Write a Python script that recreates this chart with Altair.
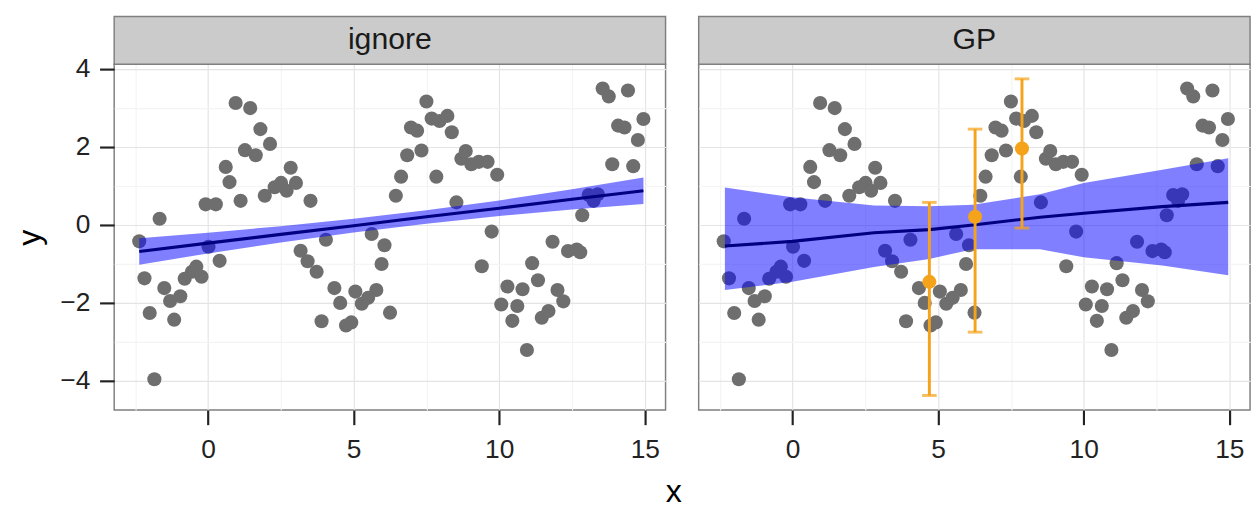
import altair as alt
import pandas as pd

# ---- scatter data (same points in both panels) ----
px = [-2.36, -2.18, -2.0, -1.84, -1.66, -1.5, -1.3, -1.16, -0.95, -0.8,
      -0.55, -0.4, -0.22, -0.08, 0.02, 0.27, 0.4, 0.61, 0.74, 0.95,
      1.12, 1.27, 1.45, 1.64, 1.8, 1.95, 2.13, 2.29, 2.51, 2.7,
      2.84, 3.02, 3.18, 3.42, 3.52, 3.73, 3.9, 4.05, 4.34, 4.54,
      4.74, 4.92, 5.06, 5.28, 5.5, 5.62, 5.78, 5.96, 6.06, 6.25,
      6.45, 6.63, 6.84, 6.97, 7.18, 7.33, 7.5, 7.68, 7.84, 7.95,
      8.22, 8.37, 8.53, 8.7, 8.85, 9.04, 9.3, 9.4, 9.6, 9.74,
      9.93, 10.07, 10.28, 10.45, 10.62, 10.8, 10.95, 11.13, 11.33, 11.46,
      11.69, 11.83, 12.0, 12.2, 12.36, 12.66, 12.78, 12.85, 13.07, 13.24,
      13.38, 13.55, 13.76, 13.88, 14.08, 14.3, 14.42, 14.6, 14.76, 14.95]
py = [-0.42, -1.37, -2.26, -3.96, 0.16, -1.62, -1.95, -2.43, -1.83, -1.38,
      -1.2, -1.07, -1.33, 0.53, -0.56, 0.53, -0.92, 1.49, 1.1, 3.13,
      0.62, 1.92, 3.0, 1.79, 2.46, 0.75, 2.08, 0.97, 1.08, 0.88,
      1.47, 1.08, -0.66, -0.93, 0.62, -1.2, -2.47, -0.38, -1.62, -2.0,
      -2.58, -2.5, -1.71, -2.02, -1.87, -0.23, -1.67, -1.0, -0.52, -2.25,
      0.75, 1.24, 1.79, 2.5, 2.42, 1.91, 3.17, 2.73, 1.24, 2.67,
      2.8, 2.38, 0.58, 1.7, 1.9, 1.56, 1.62, -1.06, 1.62, -0.17,
      1.29, -2.04, -1.58, -2.46, -2.08, -1.65, -3.21, -0.98, -1.42, -2.38,
      -2.21, -0.43, -1.67, -1.96, -0.67, -0.63, -0.7, 0.25, 0.77, 0.62,
      0.79, 3.5, 3.3, 1.56, 2.55, 2.5, 3.45, 1.51, 2.18, 2.72]

# ---- linear fit ("ignore" panel) ----
lm_x = [-2.36, 0.0, 2.5, 5.0, 7.5, 10.0, 12.5, 14.95]
lm_fit = [-0.68, -0.465, -0.24, -0.02, 0.21, 0.43, 0.66, 0.88]
lm_lo = [-1.02, -0.73, -0.45, -0.19, 0.03, 0.23, 0.40, 0.54]
lm_hi = [-0.34, -0.20, -0.03, 0.16, 0.38, 0.63, 0.92, 1.22]

# ---- GP fit ("GP" panel) ----
gp_x = [-2.32, 0.0, 2.8, 4.7, 6.2, 8.5, 10.0, 12.7, 14.96]
gp_fit = [-0.54, -0.42, -0.2, -0.12, 0.0, 0.2, 0.3, 0.47, 0.58]
gp_lo = [-1.67, -1.46, -1.08, -0.87, -0.62, -0.62, -0.83, -1.04, -1.29]
gp_hi = [0.96, 0.71, 0.5, 0.48, 0.52, 0.79, 1.08, 1.42, 1.71]

# ---- GP predictions with intervals ----
err_x = [4.7, 6.27, 7.88]
err_y = [-1.46, 0.21, 1.96]
err_lo = [-4.375, -2.75, -0.08]
err_hi = [0.58, 2.46, 3.75]

panels = ["ignore", "GP"]
x_ticks = [-2.5, 0, 2.5, 5, 7.5, 10, 12.5, 15]
y_ticks = [-4, -3, -2, -1, 0, 1, 2, 3, 4]

W, H, STRIP = 566, 355, 49
FONT = "Liberation Sans"

pts = pd.DataFrame({"x": px, "y": py})
lm_df = pd.DataFrame({"x": lm_x, "fit": lm_fit, "lo": lm_lo, "hi": lm_hi})
gp_df = pd.DataFrame({"x": gp_x, "fit": gp_fit, "lo": gp_lo, "hi": gp_hi})
err_df = pd.DataFrame({"x": err_x, "y": err_y, "lo": err_lo, "hi": err_hi})

xs = alt.Scale(domain=[-3.22, 15.71], nice=False, zero=False)
ys = alt.Scale(domain=[-4.75, 4.125], nice=False, zero=False)


def grid_color(test):
    return {"condition": {"test": test, "value": "#e4e4e4"}, "value": "#f4f4f4"}


def tick_color(test):
    return {"condition": {"test": test, "value": "#222222"}, "value": "transparent"}


def x_axis(first):
    kw = dict(values=x_ticks, grid=True, gridColor=grid_color("datum.value % 5 == 0"),
              gridWidth=1.2, domain=False, tickColor=tick_color("datum.value % 5 == 0"),
              tickSize=15, tickWidth=2.2, labelPadding=13,
              labelExpr="datum.value % 5 == 0 ? datum.label : ''")
    if first:
        kw.update(title="x", titleX=574, titleAlign="center", titlePadding=14)
    else:
        kw.update(title=None)
    return alt.Axis(**kw)


def y_axis(first):
    kw = dict(values=y_ticks, grid=True, gridColor=grid_color("datum.value % 2 == 0"),
              gridWidth=1.2, domain=False)
    if first:
        kw.update(title="y", tickColor=tick_color("datum.value % 2 == 0"), tickSize=15,
                  tickWidth=2.2, labelPadding=10, titlePadding=14,
                  labelExpr="datum.value % 2 == 0 ? datum.label : ''")
    else:
        kw.update(title=None, labels=False, ticks=False)
    return alt.Axis(**kw)


def strip(label):
    sdf = pd.DataFrame({"panel": [label]})
    rect = alt.Chart(sdf).mark_rect(fill="#cbcbcb", stroke="#7f7f7f", strokeWidth=1.5).encode(
        x=alt.value(0), x2=alt.value(W), y=alt.value(-STRIP), y2=alt.value(0))
    txt = alt.Chart(sdf).mark_text(font=FONT, fontSize=31, color="#1a1a1a",
                                   align="center", baseline="middle").encode(
        x=alt.value(W / 2), y=alt.value(-STRIP / 2), text="panel:N")
    return [rect, txt]


def panel(label, fit_df, first):
    xa, ya = x_axis(first), y_axis(first)

    def X(f):
        return alt.X(f"{f}:Q", scale=xs, axis=xa)

    def Y(f):
        return alt.Y(f"{f}:Q", scale=ys, axis=ya)

    points = alt.Chart(pts).mark_circle(size=210, color="#6e6e6e", opacity=1).encode(x=X("x"), y=Y("y"))
    ribbon = alt.Chart(fit_df).mark_area(color="#0000ff", opacity=0.5).encode(
        x=X("x"), y=Y("lo"), y2="hi:Q")
    line = alt.Chart(fit_df).mark_line(color="#000080", strokeWidth=3.2).encode(x=X("x"), y=Y("fit"))
    layers = [points, ribbon, line]
    if not first:
        orange = "#f5a31a"
        bars = alt.Chart(err_df).mark_rule(color=orange, strokeWidth=3).encode(
            x=X("x"), y=Y("lo"), y2="hi:Q")
        cap_lo = alt.Chart(err_df).mark_tick(color=orange, orient="horizontal", size=15,
                                             thickness=3).encode(x=X("x"), y=Y("lo"))
        cap_hi = alt.Chart(err_df).mark_tick(color=orange, orient="horizontal", size=15,
                                             thickness=3).encode(x=X("x"), y=Y("hi"))
        dots = alt.Chart(err_df).mark_circle(size=210, color=orange, opacity=1).encode(
            x=X("x"), y=Y("y"))
        layers += [bars, cap_lo, cap_hi, dots]
    layers += strip(label)
    return alt.layer(*layers).properties(width=W, height=H)


chart = alt.hconcat(panel(panels[0], lm_df, True), panel(panels[1], gp_df, False), spacing=15).properties(
    padding={"left": 5, "top": 0, "right": 0, "bottom": 0}
).configure_view(
    stroke="#7f7f7f", strokeWidth=1.5
).configure_axis(
    labelFont=FONT, titleFont=FONT, labelFontSize=27, titleFontSize=33,
    labelColor="#222222", titleColor="#000000", titleFontWeight="normal"
)

chart.save("out.html", embed_options={"renderer": "svg", "actions": False})
